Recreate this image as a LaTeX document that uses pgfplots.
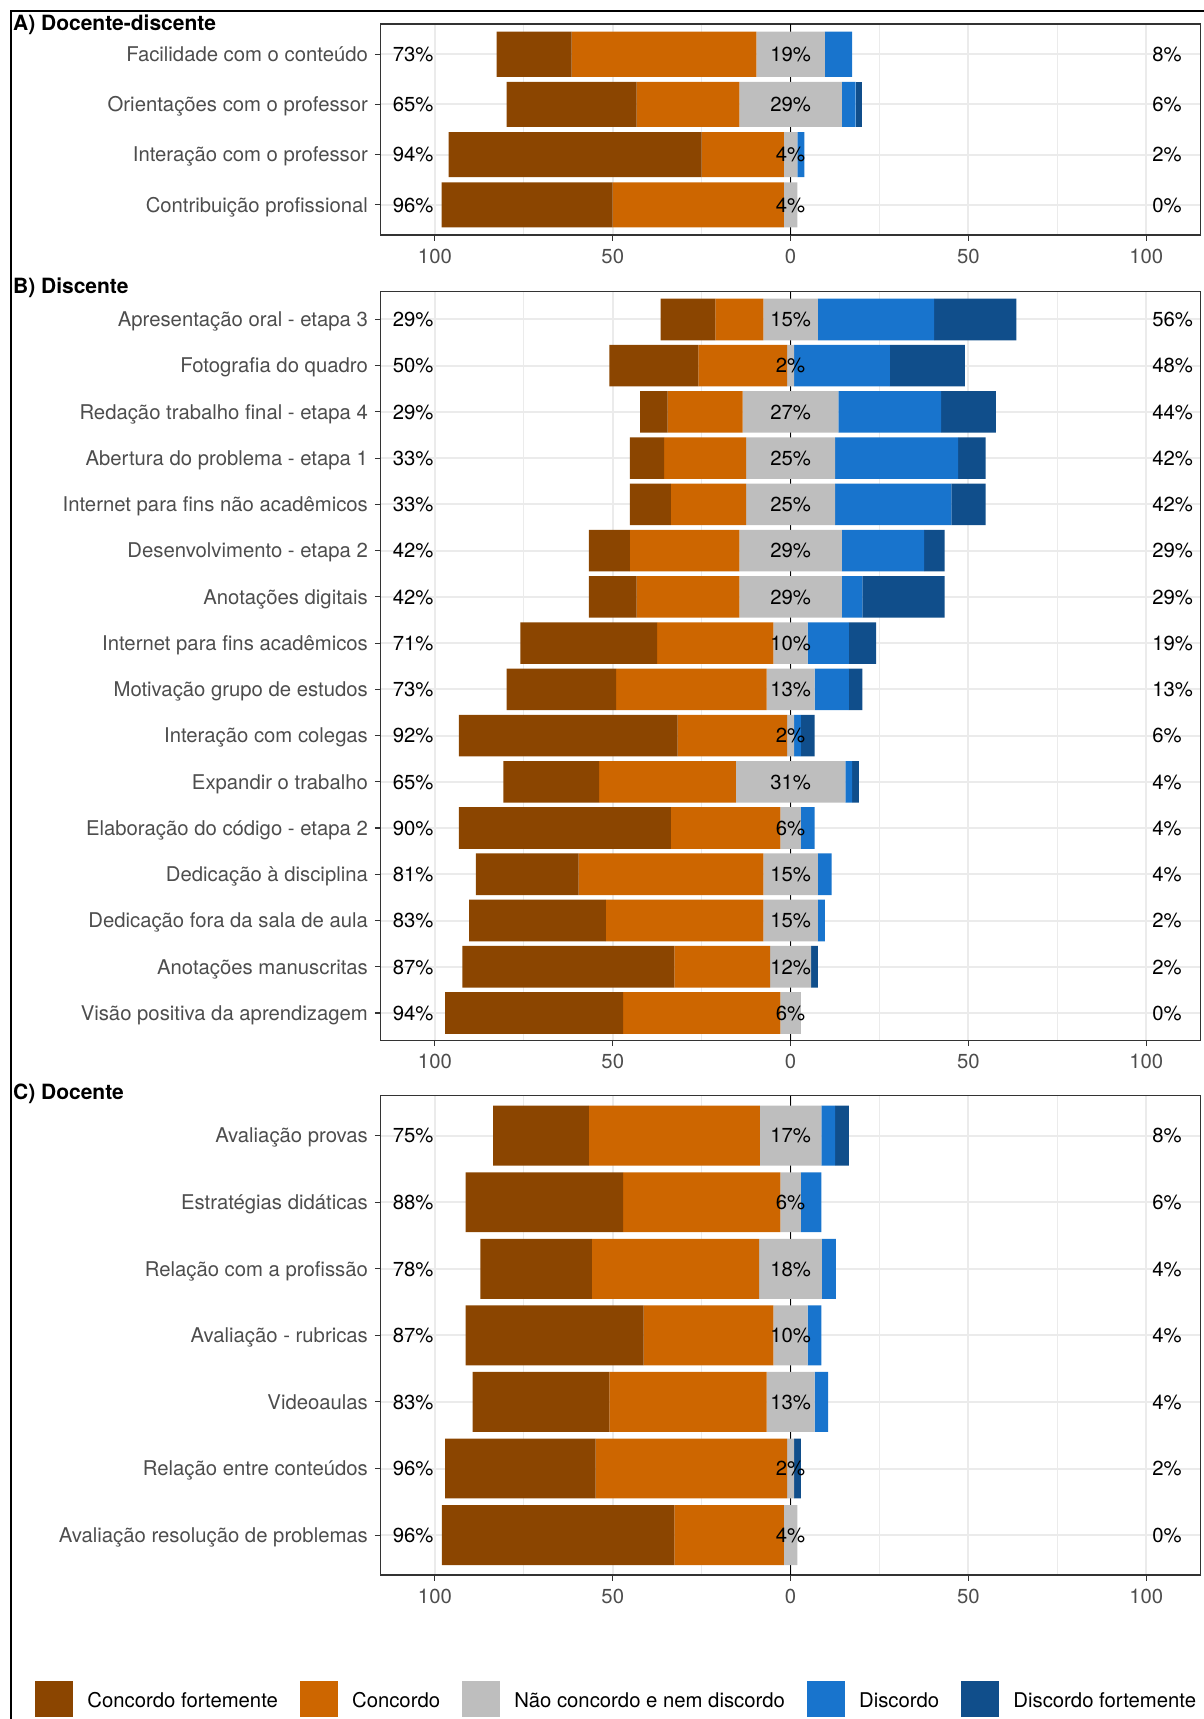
\documentclass[border=0pt]{standalone}
\usepackage{fontspec}
\setmainfont{TeX Gyre Heros}
\usepackage{pgfplots}
\usepackage{pgfplotstable}
\pgfplotsset{compat=1.18}

\definecolor{cSA}{HTML}{8B4500}
\definecolor{cA}{HTML}{CD6600}
\definecolor{cN}{HTML}{BEBEBE}
\definecolor{cD}{HTML}{1874CD}
\definecolor{cSD}{HTML}{104E8B}
\definecolor{gridc}{HTML}{EBEBEB}
\definecolor{framec}{HTML}{333333}
\definecolor{labc}{HTML}{4D4D4D}

\newcommand\lab{\fontsize{10.15pt}{12pt}\selectfont}
\newcommand\head{\fontsize{10.5pt}{12.5pt}\selectfont\bfseries}

% Percentage of answers per level (SA = concordo fortemente ... SD = discordo fortemente);
% lo / mid / hi are the rounded totals printed beside each bar.
\pgfplotstableread{
row SA A N D SD lo mid hi
1 21.15 51.92 19.23 7.69 0 73 19 8
2 36.54 28.85 28.85 3.85 1.92 65 29 6
3 71.15 23.08 3.85 1.92 0 94 4 2
4 48.08 48.08 3.85 0 0 96 4 0
}\dataA

\pgfplotstableread{
row SA A N D SD lo mid hi
1 15.38 13.46 15.38 32.69 23.08 29 15 56
2 25.00 25.00 1.92 26.92 21.15 50 2 48
3 7.69 21.15 26.92 28.85 15.38 29 27 44
4 9.62 23.08 25.00 34.62 7.69 33 25 42
5 11.54 21.15 25.00 32.69 9.62 33 25 42
6 11.54 30.77 28.85 23.08 5.77 42 29 29
7 13.46 28.85 28.85 5.77 23.08 42 29 29
8 38.46 32.69 9.62 11.54 7.69 71 10 19
9 30.77 42.31 13.46 9.62 3.85 73 13 13
10 61.54 30.77 1.92 1.92 3.85 92 2 6
11 26.92 38.46 30.77 1.92 1.92 65 31 4
12 59.62 30.77 5.77 3.85 0 90 6 4
13 28.85 51.92 15.38 3.85 0 81 15 4
14 38.46 44.23 15.38 1.92 0 83 15 2
15 59.62 26.92 11.54 0 1.92 87 12 2
16 50.00 44.23 5.77 0 0 94 6 0
}\dataB

\pgfplotstableread{
row SA A N D SD lo mid hi
1 26.92 48.08 17.31 3.85 3.85 75 17 8
2 44.23 44.23 5.77 5.77 0 88 6 6
3 31.37 47.06 17.65 3.92 0 78 18 4
4 50.00 36.54 9.62 3.85 0 87 10 4
5 38.46 44.23 13.46 3.85 0 83 13 4
6 42.31 53.85 1.92 0 1.92 96 2 2
7 65.38 30.77 3.85 0 0 96 4 0
}\dataC

% The x axis is drawn in shifted units: position 200 is the neutral centre,
% so 100 and 300 are the 100 % marks on either side.
\pgfplotsset{
  likertbase/.style={
    scale only axis, width=410.1pt,
    xmin=84.7, xmax=315.3,
    ymin=0.4, y dir=reverse,
    clip=false,
  },
  likert/.style={
    likertbase,
    xbar stacked, bar width=0.9,
    axis line style={framec, line width=0.55pt},
    xtick={100,150,200,250,300},
    xticklabels={100,50,0,50,100},
    minor xtick={125,175,225,275},
    xtick pos=bottom, ytick pos=left, tick align=outside,
    major tick length=2.75pt, minor tick length=0pt,
    tick style={framec, line width=0.55pt},
    xmajorgrids, xminorgrids, ymajorgrids,
    major grid style={gridc, line width=1pt},
    minor grid style={gridc, line width=0.5pt},
    % the vertical reference line at the neutral centre, under the bars
    extra x ticks={200}, extra x tick labels={},
    extra x tick style={xmajorgrids=true, major tick length=0pt,
      major grid style={black, line width=0.6pt}},
    tick label style={labc, font=\lab},
    yticklabel style={anchor=base east, inner sep=0pt, xshift=-3.35pt, yshift=-3.65pt},
    xticklabel style={inner sep=0pt, yshift=-3.9pt},
  },
  likertlabels/.style={
    likertbase, axis lines=none, xtick=\empty, ytick=\empty,
  },
}

% diverging stacked bars: the first, invisible segment runs up to each bar's left end
\newcommand{\likertbars}[1]{%
  \addplot[fill=none, draw=none] table[x expr={200-(\thisrow{SA}+\thisrow{A}+0.5*\thisrow{N})}, y=row]{#1};
  \addplot[fill=cSA, draw=none] table[x=SA, y=row]{#1};
  \addplot[fill=cA, draw=none] table[x=A, y=row]{#1};
  \addplot[fill=cN, draw=none] table[x=N, y=row]{#1};
  \addplot[fill=cD, draw=none] table[x=D, y=row]{#1};
  \addplot[fill=cSD, draw=none] table[x=SD, y=row]{#1};
}
\newcommand{\likerttext}[1]{%
  \addplot[only marks, mark=none, point meta=explicit symbolic,
    nodes near coords={\pgfplotspointmeta\%},
    nodes near coords style={anchor=base east, inner sep=0pt, yshift=-3.65pt, font=\lab, black}]
    table[x expr=99.7, y=row, meta=lo]{#1};
  \addplot[only marks, mark=none, point meta=explicit symbolic,
    nodes near coords={\pgfplotspointmeta\%},
    nodes near coords style={anchor=base, inner sep=0pt, yshift=-3.65pt, font=\lab, black}]
    table[x expr=200, y=row, meta=mid]{#1};
  \addplot[only marks, mark=none, point meta=explicit symbolic,
    nodes near coords={\pgfplotspointmeta\%},
    nodes near coords style={anchor=base west, inner sep=0pt, yshift=-3.65pt, font=\lab, black}]
    table[x expr=301.6, y=row, meta=hi]{#1};
}

\begin{document}
\begin{tikzpicture}
\useasboundingbox (0,0) rectangle (602pt,-859.5pt);

% ---------------- A) Docente-discente
\begin{axis}[likert, at={(190.25pt,-12pt)}, anchor=north west,
  height=105.5pt, ymax=4.6, ytick={1,...,4},
  yticklabels={Facilidade com o conteúdo, Orientações com o professor,
    Interação com o professor, Contribuição profissional}]
  \likertbars{\dataA}
\end{axis}
\begin{axis}[likertlabels, at={(190.25pt,-12pt)}, anchor=north west,
  height=105.5pt, ymax=4.6]
  \likerttext{\dataA}
\end{axis}

% ---------------- B) Discente
\begin{axis}[likert, at={(190.25pt,-145.85pt)}, anchor=north west,
  height=374.5pt, ymax=16.6, ytick={1,...,16},
  yticklabels={Apresentação oral - etapa 3, Fotografia do quadro,
    Redação trabalho final - etapa 4, Abertura do problema - etapa 1,
    Internet para fins não acadêmicos, Desenvolvimento - etapa 2,
    Anotações digitais, Internet para fins acadêmicos,
    Motivação grupo de estudos, Interação com colegas, Expandir o trabalho,
    Elaboração do código - etapa 2, Dedicação à disciplina,
    Dedicação fora da sala de aula, Anotações manuscritas,
    Visão positiva da aprendizagem}]
  \likertbars{\dataB}
\end{axis}
\begin{axis}[likertlabels, at={(190.25pt,-145.85pt)}, anchor=north west,
  height=374.5pt, ymax=16.6]
  \likerttext{\dataB}
\end{axis}

% ---------------- C) Docente
\begin{axis}[likert, at={(190.25pt,-547.85pt)}, anchor=north west,
  height=239.65pt, ymax=7.6, ytick={1,...,7},
  yticklabels={Avaliação provas, Estratégias didáticas,
    Relação com a profissão, Avaliação - rubricas, Videoaulas,
    Relação entre conteúdos, Avaliação resolução de problemas},
  legend columns=5,
  legend cell align=left,
  legend image code/.code={\fill[#1] (0pt,-7.5pt) rectangle (19pt,10.5pt);},
  legend style={at={(-0.4212,-0.2585)}, anchor=west, draw=none,
    inner sep=0pt, outer sep=0pt, font=\lab, text=black,
    nodes={inner sep=0pt},
    /tikz/every odd column/.append style={column sep=7.2pt},
    /tikz/every even column/.append style={column sep=10.9pt}}]
  \likertbars{\dataC}
  \legend{,Concordo fortemente, Concordo, Não concordo e nem discordo,
    Discordo, Discordo fortemente}
\end{axis}
\begin{axis}[likertlabels, at={(190.25pt,-547.85pt)}, anchor=north west,
  height=239.65pt, ymax=7.6]
  \likerttext{\dataC}
\end{axis}

% panel headings and outer frame
\node[anchor=base west, inner sep=0pt, font=\head] at (6.35pt,-15pt) {A) Docente-discente};
\node[anchor=base west, inner sep=0pt, font=\head] at (6.35pt,-146.5pt) {B) Discente};
\node[anchor=base west, inner sep=0pt, font=\head] at (6.35pt,-549.8pt) {C) Docente};
\draw[black, line width=0.75pt] (5.5pt,-860pt) -- (5.5pt,-5.5pt) -- (603pt,-5.5pt);
\end{tikzpicture}
\end{document}
